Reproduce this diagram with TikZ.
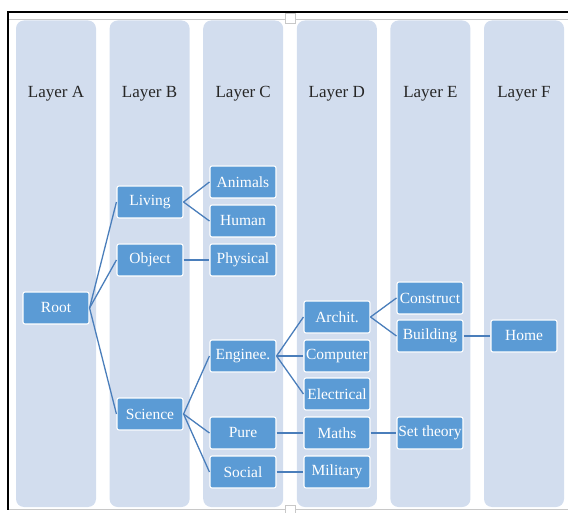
\documentclass[tikz,border=0pt]{standalone}
\usepackage{fontspec}
\setmainfont{Liberation Serif}
\usetikzlibrary{positioning}
\definecolor{lane}{HTML}{D2DDEE}
\definecolor{boxfill}{HTML}{5B9BD5}
\definecolor{link}{HTML}{4A7EBB}
\definecolor{ink}{HTML}{262626}
\definecolor{rule}{HTML}{C8C8C8}
\tikzset{
  lanebg/.style = {fill=lane, rounded corners=8pt},
  head/.style   = {text=ink, inner sep=1pt, font=\fontsize{17}{20}\selectfont},
  box/.style    = {draw=white, fill=boxfill, text=white, line width=1.1pt,
                   rounded corners=2pt, minimum width=66pt, minimum height=32pt,
                   inner sep=0pt},
  edge/.style   = {draw=link, line width=1.3pt},
  handle/.style = {draw=rule, fill=white, line width=0.6pt},
}
\begin{document}
\begin{tikzpicture}[x=1pt,y=-1pt,font=\fontsize{15.5}{18}\selectfont]
  \useasboundingbox (0,0) rectangle (568,513);
  % frame
  \draw[rule,line width=0.8pt] (8,19.5) -- (568,19.5);
  \draw[rule,line width=0.8pt] (8,509.5) -- (568,509.5);
  \draw[black,line width=1.8pt] (568,12) -- (8,12) -- (8,510);
  % lanes
  \foreach \c/\t in {0/A,1/B,2/C,3/D,4/E,5/F}{
    \fill[lanebg] ({16+93.6*\c},20.5) rectangle ++(80,486.5);
    \node[head] (layer\t) at ({56+93.6*\c},94) {Layer \t};}
  \node[handle,minimum size=10pt,inner sep=0pt] (hdltop) at (290,18.5) {};
  \node[handle,minimum size=10pt,inner sep=0pt] (hdlbot) at (290,510) {};
  % boxes
  \node[box] (root)       at (56,308)  {Root};
  \node[box] (living)     at (150,202) {Living};
  \node[box] (object)     at (150,260) {Object};
  \node[box] (science)    at (150,414) {Science};
  \node[box] (animals)    at (243,182) {Animals};
  \node[box] (human)      at (243,221) {Human};
  \node[box] (physical)   at (243,260) {Physical};
  \node[box] (enginee)    at (243,356) {Enginee.};
  \node[box] (pure)       at (243,433) {Pure};
  \node[box] (social)     at (243,472) {Social};
  \node[box] (archit)     at (337,317) {Archit.};
  \node[box] (computer)   at (337,356) {Computer};
  \node[box] (electrical) at (337,394) {Electrical};
  \node[box] (maths)      at (337,433) {Maths};
  \node[box] (military)   at (337,472) {Military};
  \node[box] (construct)  at (430,298) {Construct};
  \node[box] (building)   at (430,336) {Building};
  \node[box] (settheory)  at (430,433) {Set theory};
  \node[box] (home)       at (524,336) {Home};
  % links
  \foreach \a/\b in {root/living,root/object,root/science,
                     living/animals,living/human,object/physical,
                     science/enginee,science/pure,science/social,
                     enginee/archit,enginee/computer,enginee/electrical,
                     pure/maths,social/military,
                     archit/construct,archit/building,
                     maths/settheory,building/home}
    \draw[edge] (\a.east) -- (\b.west);
\end{tikzpicture}
\end{document}
